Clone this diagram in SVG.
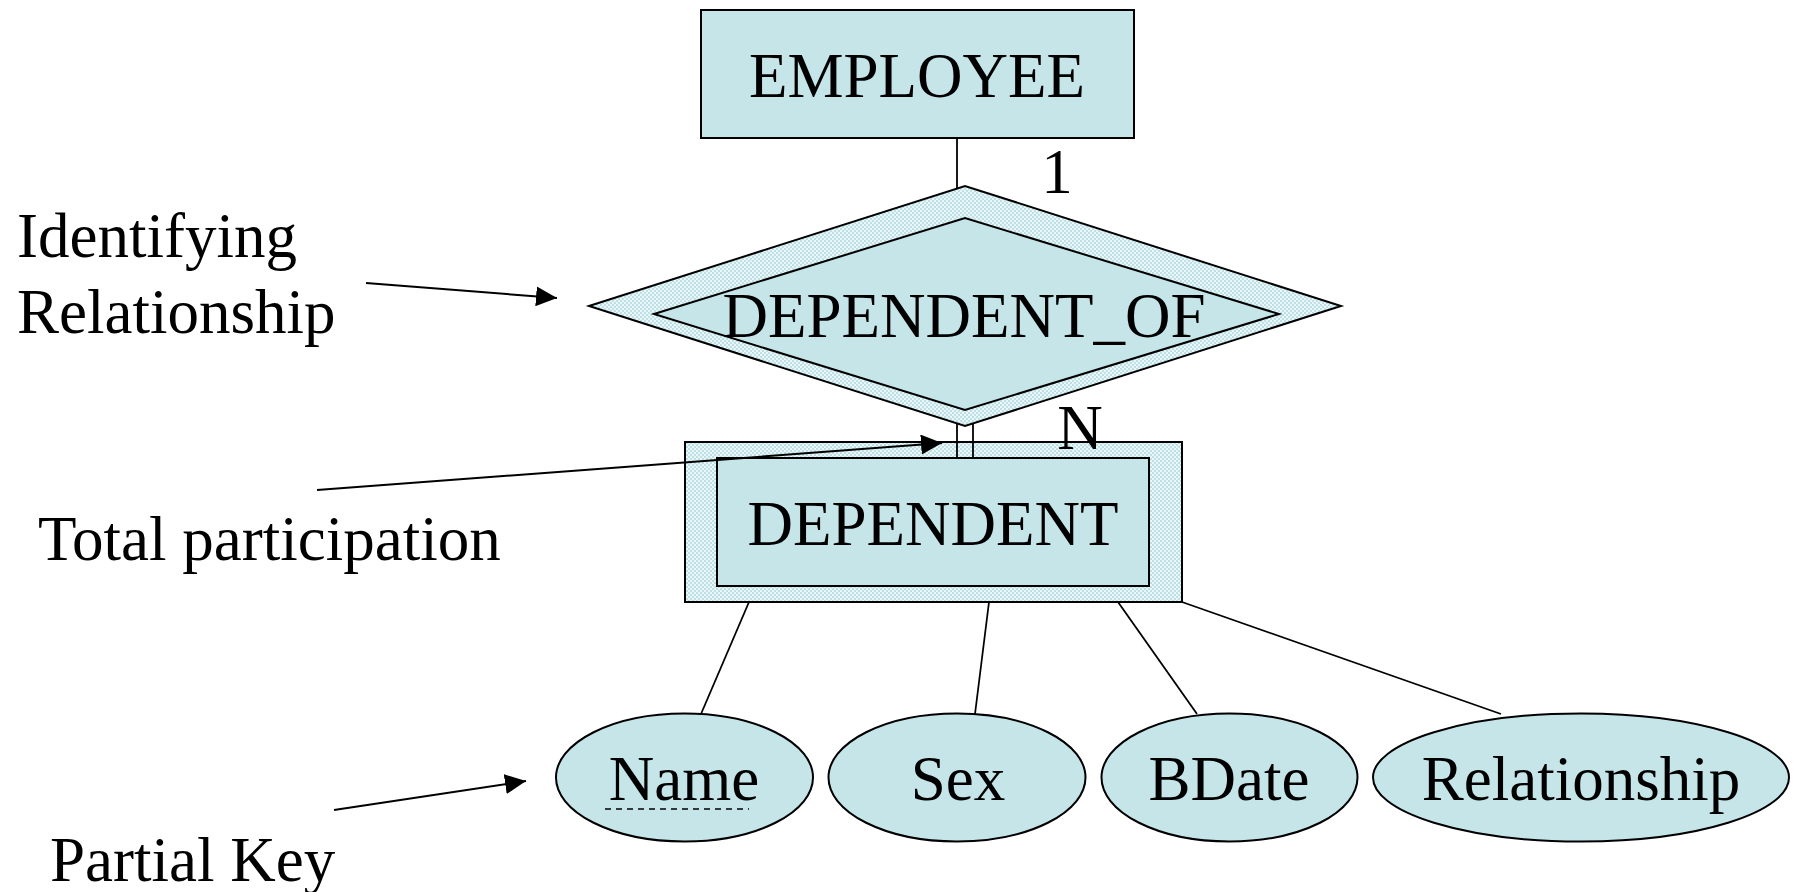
<svg xmlns="http://www.w3.org/2000/svg" width="1799" height="892" viewBox="0 0 1799 892">
<style>
text{font-family:"Liberation Serif","Times New Roman",serif;font-size:63px;fill:#000}
.c{text-anchor:middle}
.shape{fill:#C5E5E8;stroke:#000;stroke-width:2}
.band{fill:url(#hatch);stroke:#000;stroke-width:2}
.ln{stroke:#000;stroke-width:1.8;fill:none}
.arr{stroke:#000;stroke-width:2;fill:none;marker-end:url(#ah)}
</style>
<defs>
<pattern id="hatch" width="4" height="4" patternUnits="userSpaceOnUse">
<rect width="4" height="4" fill="#EAF6F7"/>
<rect width="2" height="2" fill="#BCE0E5"/>
<rect x="2" y="2" width="2" height="2" fill="#BCE0E5"/>
</pattern>
<marker id="ah" markerUnits="userSpaceOnUse" markerWidth="22" markerHeight="20" refX="21" refY="10" orient="auto">
<path d="M0,0 L21,10 L0,20 Z" fill="#000"/>
</marker>
</defs>

<g id="employee">
<rect class="shape" x="701" y="10" width="433" height="128"/>
<text class="c" x="917" y="97">EMPLOYEE</text>
</g>

<g id="dependent_of">
<polygon class="band" points="589,306 965,186 1341,306 965,426"/>
<polygon class="shape" points="654,314 965,218 1279,314 965,410"/>
<text class="c" x="964" y="337">DEPENDENT_OF</text>
</g>

<g id="dependent">
<rect class="band" x="685" y="442" width="497" height="160"/>
<rect class="shape" x="717" y="458" width="432" height="128"/>
<text class="c" x="933" y="545">DEPENDENT</text>
</g>

<g id="card1"><text class="c" x="1057" y="193">1</text></g>
<g id="cardN"><text class="c" x="1080" y="449">N</text></g>

<g id="attr_name">
<ellipse class="shape" cx="684.5" cy="777.5" rx="128.5" ry="64"/>
<text class="c" x="684" y="800">Name</text>
<line x1="605" y1="809" x2="749" y2="809" stroke="#000" stroke-width="1.5" stroke-dasharray="6,5"/>
</g>
<g id="attr_sex">
<ellipse class="shape" cx="957" cy="777.5" rx="128.5" ry="64"/>
<text class="c" x="958" y="800">Sex</text>
</g>
<g id="attr_bdate">
<ellipse class="shape" cx="1229.5" cy="777.5" rx="128" ry="64"/>
<text class="c" x="1229" y="800">BDate</text>
</g>
<g id="attr_relationship">
<ellipse class="shape" cx="1581" cy="777.5" rx="208" ry="64"/>
<text class="c" x="1581" y="800">Relationship</text>
</g>

<g id="label_identifying">
<text x="17" y="257">Identifying</text>
<text x="17" y="333">Relationship</text>
</g>
<g id="label_total">
<text x="38" y="560">Total participation</text>
</g>
<g id="label_partial">
<text x="50" y="881">Partial Key</text>
</g>

<g id="connectors">
<line class="ln" x1="957" y1="138" x2="957" y2="188"/>
<line class="ln" x1="957" y1="424" x2="957" y2="458"/>
<line class="ln" x1="973" y1="424" x2="973" y2="458"/>
<line class="ln" x1="749" y1="602" x2="701" y2="714"/>
<line class="ln" x1="989" y1="602" x2="975" y2="714"/>
<line class="ln" x1="1118" y1="602" x2="1197" y2="714"/>
<line class="ln" x1="1182" y1="602" x2="1501" y2="714"/>
<line class="arr" x1="366" y1="283" x2="557" y2="298"/>
<line class="arr" x1="317" y1="490" x2="942" y2="443"/>
<line class="arr" x1="334" y1="810" x2="526" y2="781"/>
</g>
</svg>
